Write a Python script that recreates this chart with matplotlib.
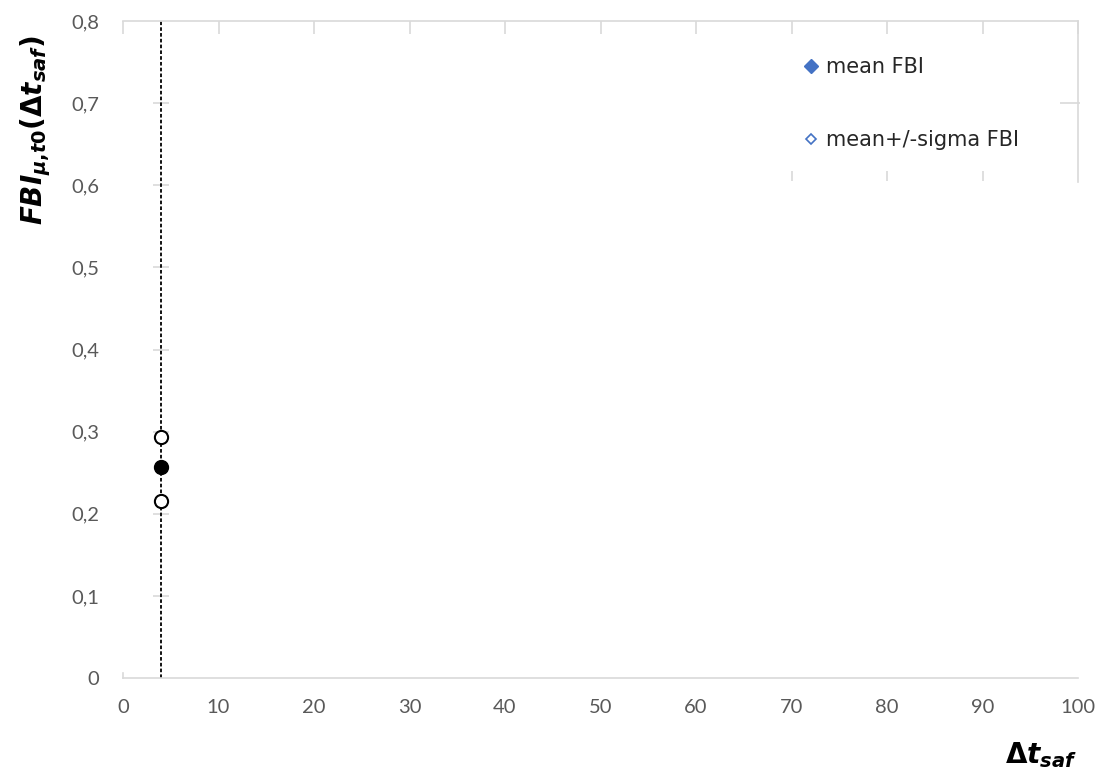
import matplotlib
matplotlib.use("Agg")
import matplotlib.pyplot as plt
from matplotlib.lines import Line2D
import matplotlib.transforms as mtransforms

# ---- data ----
x_mean = [4]
mean_fbi = [0.257]
x_sigma = [4, 4]
sigma_fbi = [0.294, 0.216]
x_threshold = 4
x_ticks = [0, 10, 20, 30, 40, 50, 60, 70, 80, 90, 100]
y_ticks = [0, 0.1, 0.2, 0.3, 0.4, 0.5, 0.6, 0.7, 0.8]
y_tick_labels = ["0", "0,1", "0,2", "0,3", "0,4", "0,5", "0,6", "0,7", "0,8"]
legend_labels = ["mean FBI", "mean+/-sigma FBI"]

plt.rcParams['font.family'] = ['Lato', 'DejaVu Sans']
plt.rcParams['mathtext.fontset'] = 'custom'
plt.rcParams['mathtext.rm'] = 'DejaVu Sans:bold'
plt.rcParams['mathtext.it'] = 'DejaVu Sans:italic:bold'
plt.rcParams['mathtext.bf'] = 'DejaVu Sans:italic:bold'

GRAY = '#D9D9D9'
TXT = '#595959'
BLUE = '#4472C4'

fig = plt.figure(figsize=(11.01, 7.71), dpi=100)
ax = fig.add_axes([123/1101, 1-678/771, 955/1101, 657/771])
ax.set_xlim(0, 100)
ax.set_ylim(0, 0.8)

# spines
ax.spines['left'].set_visible(False)
for s in ['bottom', 'top', 'right']:
    ax.spines[s].set_color(GRAY)
    ax.spines[s].set_linewidth(1.2)
ax.spines['right'].set_bounds(0.604, 0.8)

ax.set_xticks(x_ticks)
ax.set_xticklabels([str(t) for t in x_ticks])
ax.set_yticks(y_ticks)
ax.set_yticklabels(y_tick_labels)
ax.tick_params(axis='x', bottom=False, top=True, direction='in', length=9,
               width=1.2, color=GRAY, labelsize=14.5, labelcolor=TXT, pad=15)
ax.tick_params(axis='y', left=False, length=0, labelsize=14.5, labelcolor=TXT, pad=17)

# small hook at x=0 on bottom axis
ax.plot([0, 0], [0, 0.006], color=GRAY, lw=1.2, clip_on=False)
# cross ticks on the vertical axis at x = threshold
ax.plot([x_threshold] * len(y_ticks[1:-1]), y_ticks[1:-1], linestyle='none',
        marker='_', markersize=12, markeredgewidth=1.2, color=GRAY, zorder=1)
# right spine tick at 0.7 (pointing in)
trans_r = mtransforms.offset_copy(ax.transData, fig=fig, x=-8, y=0, units='dots')
ax.plot([100], [0.7], marker='_', markersize=15, markeredgewidth=1.2, color=GRAY,
        transform=trans_r, clip_on=False)
# stray ticks near y=0.605 at x=70,80,90
ax.vlines(x_ticks[7:10], 0.605, 0.617, color=GRAY, lw=1.2)

# threshold line
ax.axvline(x_threshold, color='black', lw=1.3, linestyle=(0, (2.0, 1.2)), zorder=2)

# blue diamond series (mostly hidden behind the black circles)
ax.plot(x_mean, mean_fbi, linestyle='none', marker='D', markersize=7, color=BLUE, zorder=3)
ax.plot(x_sigma, sigma_fbi, linestyle='none', marker='D', markersize=5,
        markerfacecolor='white', markeredgecolor=BLUE, zorder=3)
# black circles
ax.plot(x_mean, mean_fbi, linestyle='none', marker='o', markersize=10,
        color='black', zorder=4)
ax.plot(x_sigma, sigma_fbi, linestyle='none', marker='o', markersize=9.5,
        markerfacecolor='white', markeredgecolor='black', markeredgewidth=1.5, zorder=4)

# legend
handles = [
    Line2D([], [], linestyle='none', marker='D', markersize=7, color=BLUE),
    Line2D([], [], linestyle='none', marker='D', markersize=5,
           markerfacecolor='white', markeredgecolor=BLUE, markeredgewidth=1.2),
]
leg = ax.legend(handles, legend_labels, loc='upper left', bbox_to_anchor=(0.713, 0.9445),
                frameon=False, prop={'family': 'DejaVu Sans', 'size': 15},
                handlelength=0.68, handletextpad=0.38,
                labelspacing=2.54, borderpad=0, borderaxespad=0)
for t in leg.get_texts():
    t.set_color('#262626')

# axis titles
fig.text(36/1101, 1-130/771, r'$FBI_{\mu{,}t0}(\Delta t_{saf})$', rotation=90,
         ha='center', va='center', fontsize=20, color='black')
fig.text(1005/1101, 1-755/771, r'$\Delta t_{saf}$', ha='left', va='center',
         fontsize=20, color='black')

fig.savefig('out.png', dpi=100)
